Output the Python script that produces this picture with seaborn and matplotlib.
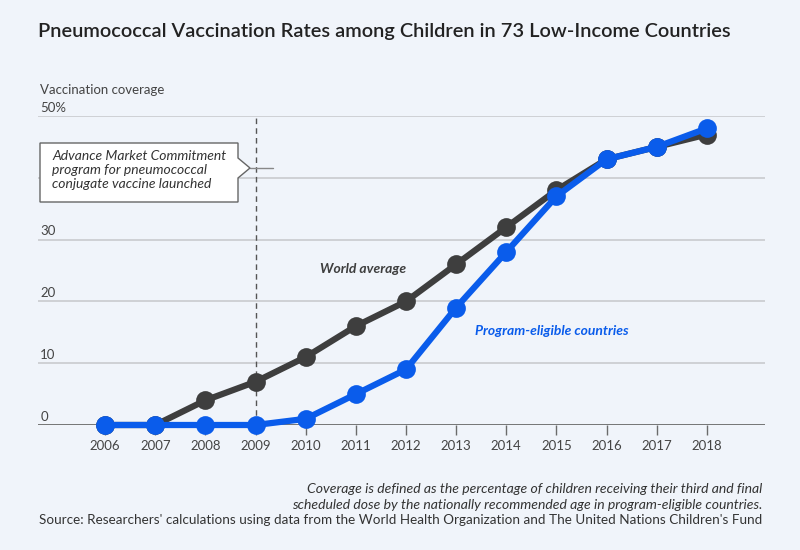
import matplotlib
matplotlib.use("Agg")
import matplotlib.pyplot as plt
import seaborn as sns
import pandas as pd
from matplotlib.patches import Polygon
from matplotlib.lines import Line2D

years = [2006, 2007, 2008, 2009, 2010, 2011, 2012, 2013, 2014, 2015, 2016, 2017, 2018]
world_average = [0, 0, 4, 7, 11, 16, 20, 26, 32, 38, 43, 45, 47]
program_eligible = [0, 0, 0, 0, 1, 5, 9, 19, 28, 37, 43, 45, 48]
y_ticks = [0, 10, 20, 30, 40, 50]
y_tick_labels = ["0", "10", "20", "30", "", "50%"]
launch_year = 2009

BG = "#f0f4fa"
GRAY = "#3e3e3e"
BLUE = "#0a5ceb"

sns.set_theme(style="white")
plt.rcParams["font.family"] = ["Lato", "DejaVu Sans"]

fig = plt.figure(figsize=(8, 5.5), dpi=100, facecolor=BG)
W, H = 800, 550
def fx(px): return px / W
def fy(py): return 1 - py / H

ax = fig.add_axes([fx(38), fy(425), fx(765) - fx(38), fy(116) - fy(425)])
ax.set_facecolor(BG)

df_w = pd.DataFrame({"year": years, "value": world_average})
df_p = pd.DataFrame({"year": years, "value": program_eligible})

for y in y_ticks[1:]:
    ax.axhline(y, color="#c9cbce", lw=1.2, zorder=0)
ax.axhline(0, color="#6b6b6b", lw=1.3, zorder=1)

ax.axvline(launch_year, ymin=0, ymax=1.0, color="#555555", lw=1.0, ls=(0, (4, 3)), zorder=1)

sns.lineplot(data=df_w, x="year", y="value", ax=ax, color=GRAY, lw=4.5,
             marker="o", markersize=13.5, markeredgewidth=0, zorder=3, clip_on=False)
sns.lineplot(data=df_p, x="year", y="value", ax=ax, color=BLUE, lw=4.5,
             marker="o", markersize=13.5, markeredgewidth=0, zorder=4, clip_on=False)

ax.set_xlim(2004.66, 2019.16)
ax.set_ylim(0, 50)
ax.set_xticks(years)
ax.set_xticklabels([str(y) for y in years], fontsize=9.5, color="#444444")
ax.tick_params(axis="x", length=7, width=1, color="#6b6b6b", pad=4, direction="out", bottom=True)
ax.set_yticks([])
ax.set_xlabel("")
ax.set_ylabel("")
for s in ax.spines.values():
    s.set_visible(False)

for v, lab in zip(y_ticks, y_tick_labels):
    if lab:
        ax.text(0.003, v + 0.4, lab, transform=ax.get_yaxis_transform(),
                fontsize=9.5, color="#444444", ha="left", va="bottom")

fig.text(fx(40), fy(90), "Vaccination coverage", fontsize=9.5, color="#444444", ha="left", va="center")

fig.text(fx(38), fy(31), "Pneumococcal Vaccination Rates among Children in 73 Low-Income Countries",
         fontsize=14.4, fontweight="semibold", color="#222222", ha="left", va="center")

# annotation box with pointer
box = [(40, 143), (238, 143), (238, 158), (250, 168), (238, 178), (238, 202), (40, 202)]
fig.patches.append(Polygon([(fx(x), fy(y)) for x, y in box], closed=True, transform=fig.transFigure,
                           facecolor="white", edgecolor="#666666", lw=1.0, zorder=5))
fig.lines.append(Line2D([fx(250), fx(273)], [fy(168), fy(168)], transform=fig.transFigure,
                        color="#888888", lw=1.0, zorder=5))
fig.text(fx(52), fy(170), "Advance Market Commitment\nprogram for pneumococcal\nconjugate vaccine launched",
         fontsize=10, style="italic", color="#333333", ha="left", va="center", linespacing=1.25, zorder=6)

ax.text(2010.28, 25.2, "World average", fontsize=10, style="italic", fontweight="bold",
        color=GRAY, ha="left", va="center", zorder=6)
ax.text(2013.37, 15.2, "Program-eligible countries", fontsize=10, style="italic", fontweight="bold",
        color=BLUE, ha="left", va="center", zorder=6)

fig.text(fx(762), fy(489), "Coverage is defined as the percentage of children receiving their third and final",
         fontsize=10.1, style="italic", color="#333333", ha="right", va="center")
fig.text(fx(762), fy(505), "scheduled dose by the nationally recommended age in program-eligible countries.",
         fontsize=10.1, style="italic", color="#333333", ha="right", va="center")
fig.text(fx(762), fy(520), "Source: Researchers' calculations using data from the World Health Organization and The United Nations Children's Fund",
         fontsize=9.7, color="#333333", ha="right", va="center")

fig.savefig("out.png", dpi=100, facecolor=BG)
